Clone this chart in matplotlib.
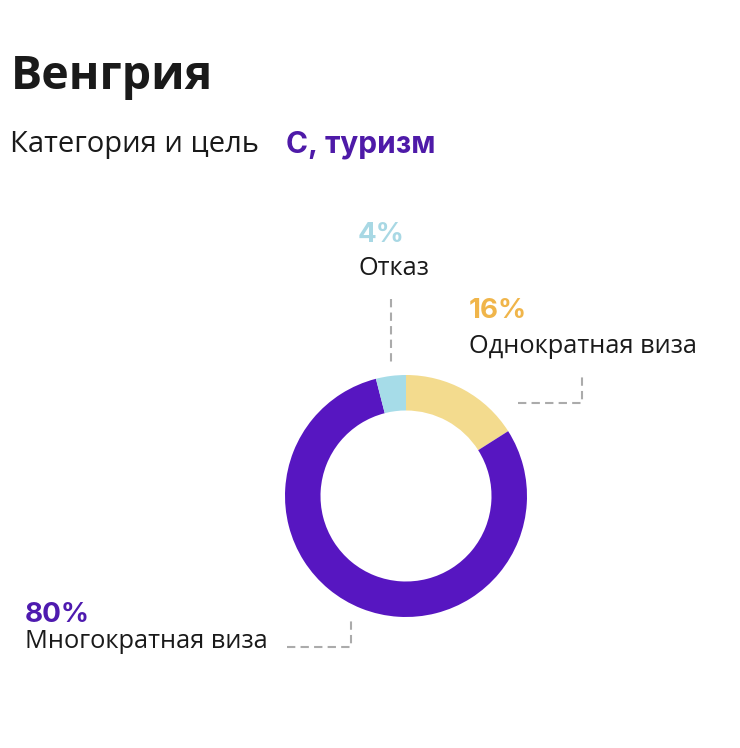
import matplotlib
matplotlib.use("Agg")
import matplotlib.pyplot as plt

# data
labels = ["Однократная виза", "Многократная виза", "Отказ"]
shares = [16, 80, 4]
ring_colors = ["#F3DB8E", "#5716C1", "#A6DCE8"]
pct_colors = ["#F0B54A", "#4E1AAF", "#A8D8E4"]

title = "Венгрия"
subtitle = "Категория и цель"
subtitle_value = "С, туризм"

W, H = 740, 748
fig = plt.figure(figsize=(W / 100, H / 100), dpi=100)
ax = fig.add_axes([0, 0, 1, 1])


def Y(py):
    # pixel row (top-down) -> data y
    return H - py


# donut
cx, cy = 406, 496
ax.pie(shares, colors=ring_colors, startangle=90, counterclock=False,
       radius=121, center=(cx, Y(cy)), frame=True,
       wedgeprops=dict(width=35.5, linewidth=0))
ax.set_xlim(0, W)
ax.set_ylim(0, H)
ax.axis("off")

# leader lines
dash = dict(color="#ABABAB", lw=1.5, linestyle=(0, (4, 2.5)))
ax.plot([391, 391], [Y(299), Y(362)], **dash)
ax.plot([518, 582, 582], [Y(403), Y(403), Y(374)], **dash)
ax.plot([287, 351, 351], [Y(647), Y(647), Y(617)], **dash)

# labels
label_pos = {0: (469, 318, 353), 1: (25, 622, 648), 2: (358, 242, 275)}
for i, name in enumerate(labels):
    x, yp, yl = label_pos[i]
    ax.text(x, Y(yp), f"{shares[i]}%", color=pct_colors[i], fontsize=20,
            fontweight="bold", family="Inter", ha="left", va="baseline")
    ax.text(x, Y(yl), name, color="#1A1A1A", fontsize=18.3,
            family="Open Sans", ha="left", va="baseline")

# header
ax.text(11, Y(89), title, color="#1A1A1A", fontsize=33.5, fontweight="bold",
        family="Open Sans", ha="left", va="baseline")
ax.text(10, Y(152), subtitle, color="#1A1A1A", fontsize=21,
        family="Open Sans", ha="left", va="baseline")
ax.text(286, Y(152), subtitle_value, color="#4E1AA8", fontsize=21.5,
        fontweight="bold", family="Inter", ha="left", va="baseline")

fig.savefig("out.png", dpi=100)
